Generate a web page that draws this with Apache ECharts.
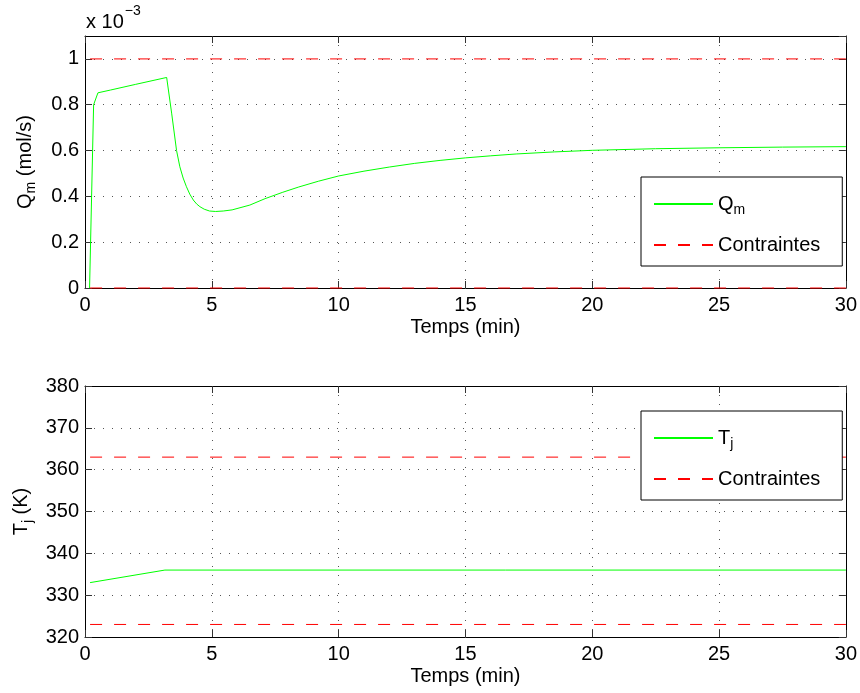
<!DOCTYPE html>
<html>
<head>
<meta charset="utf-8">
<script src="https://cdn.jsdelivr.net/npm/echarts@6/dist/echarts.min.js"></script>
<style>
html,body{margin:0;padding:0;background:#fff;}
#chart{width:860px;height:693px;}
</style>
</head>
<body>
<div id="chart"></div>
<script>
// ---- data ----
var timeQ = [0.18, 0.34, 0.51, 1.0, 2.0, 3.22, 3.42, 3.61, 3.74, 3.87, 4.0, 4.13, 4.27, 4.4, 4.53, 4.7, 4.91, 5.15, 5.45, 5.8, 6.5, 7.1, 7.8, 8.43, 9.2, 10, 11, 12, 13, 14, 15, 16, 17, 18.5, 20, 22.5, 25, 27.5, 30];
var qm    = [0, 0.80, 0.852, 0.864, 0.889, 0.919, 0.76, 0.60, 0.529, 0.48, 0.442, 0.41, 0.384, 0.367, 0.355, 0.344, 0.336, 0.334, 0.336, 0.341, 0.362, 0.39, 0.418, 0.441, 0.466, 0.489, 0.51, 0.528, 0.544, 0.557, 0.568, 0.577, 0.585, 0.594, 0.601, 0.608, 0.612, 0.615, 0.617];
var timeT = [0.2, 3.15, 30];
var tj    = [333, 336, 336];
var consTime = [0.2, 30];
var qmUpper = [1, 1];
var qmLower = [0, 0];
var tjUpper = [363, 363];
var tjLower = [323, 323];

function zip(xs, ys){ return xs.map(function(x,i){ return [x, ys[i]]; }); }

var FONT = 'Liberation Sans, Arial, Helvetica, sans-serif';
var FS = 20;
var richStyles = {
  b: {fontSize: FS, fontFamily: FONT, color: '#000', lineHeight: 24},
  s: {fontSize: 14, fontFamily: FONT, color: '#000', padding: [12, 0, 0, 0], lineHeight: 14}
};

function baseX(gridIndex, isTop){
  return {
    type: 'value', gridIndex: gridIndex, min: 0, max: 30, interval: 5,
    position: isTop ? 'top' : 'bottom',
    axisLine: {show: true, onZero: false, lineStyle: {color: '#000', width: 1}},
    axisTick: {show: true, inside: true, length: 7, lineStyle: {color: '#333', width: 1}},
    axisLabel: {show: !isTop, color: '#000', fontSize: FS, fontFamily: FONT, margin: 7},
    splitLine: {show: !isTop, lineStyle: {color: '#555', width: 1, type: [1, 8]}},
    name: isTop ? '' : 'Temps (min)',
    nameLocation: 'middle', nameGap: 29,
    nameTextStyle: {color: '#000', fontSize: FS, fontFamily: FONT}
  };
}
function baseY(gridIndex, isRight, min, max, interval, name){
  return {
    type: 'value', gridIndex: gridIndex, min: min, max: max, interval: interval,
    position: isRight ? 'right' : 'left',
    axisLine: {show: true, onZero: false, lineStyle: {color: '#000', width: 1}},
    axisTick: {show: true, inside: true, length: 7, lineStyle: {color: '#333', width: 1}},
    axisLabel: {show: !isRight, color: '#000', fontSize: FS, fontFamily: FONT, margin: 6, showMaxLabel: (max - min) % interval === 0,
      formatter: function(v){ return String(Math.round(v * 1000) / 1000); }},
    splitLine: {show: !isRight, lineStyle: {color: '#555', width: 1, type: [1, 8]}},
    name: isRight ? '' : name,
    nameLocation: 'middle', nameGap: 48, nameRotate: 90,
    nameTextStyle: {color: '#000', fontSize: FS, fontFamily: FONT, rich: richStyles}
  };
}

var green = {color: '#00ff00', width: 1};
var redDash = {color: '#ff0000', width: 1, type: [12, 12]};

function lineSeries(name, xi, yi, data, style, clip){
  return {
    name: name, type: 'line', xAxisIndex: xi, yAxisIndex: yi,
    data: data, symbol: 'none', showSymbol: false, lineStyle: style,
    smooth: false,
    itemStyle: {color: style.color}, clip: clip, animation: false, z: 3
  };
}

function legendFmt(name){
  if (name === 'Q_m') return '{b|Q}{s|m}';
  if (name === 'T_j') return '{b|T}{s|j}';
  return '{b|' + name + '}';
}

function makeLegend(names, top){
  return {data: names, orient: 'vertical', left: 641, top: top,
    itemWidth: 59, itemHeight: 14, itemGap: 18, padding: [14, 22, 11, 12],
    borderColor: '#000', borderWidth: 1, backgroundColor: '#fff',
    itemStyle: {opacity: 0},
    formatter: legendFmt, textStyle: {rich: richStyles}, selectedMode: false};
}

var option = {
  animation: false,
  backgroundColor: '#fff',
  grid: [
    {left: 85, top: 36, width: 764, height: 252},
    {left: 85, top: 386, width: 764, height: 251}
  ],
  xAxis: [baseX(0, false), baseX(0, true), baseX(1, false), baseX(1, true)],
  yAxis: [
    baseY(0, false, 0, 1.1, 0.2, '{b|Q}{s|m}{b| (mol/s)}'),
    baseY(0, true, 0, 1.1, 0.2, ''),
    baseY(1, false, 320, 380, 10, '{b|T}{s|j}{b| (K)}'),
    baseY(1, true, 320, 380, 10, '')
  ],
  legend: [makeLegend(['Q_m', 'Contraintes'], 177), makeLegend(['T_j', 'Contraintes'], 411)],
  graphic: [
    {type: 'text', left: 86, top: 4, z: 10,
     style: {text: '{b|x 10}{u|\u22123}', rich: {
       b: {fontSize: FS, fontFamily: FONT, fill: '#000', color: '#000', padding: [12, 0, 0, 0]},
       u: {fontSize: 14, fontFamily: FONT, fill: '#000', color: '#000', padding: [0, 0, 10, 1]}
     }}}
  ],
  series: [
    lineSeries('Q_m', 0, 0, zip(timeQ, qm), green, true),
    lineSeries('Contraintes', 0, 0, zip(consTime, qmUpper), redDash, false),
    lineSeries('Contraintes', 0, 0, zip(consTime, qmLower), redDash, false),
    lineSeries('T_j', 2, 2, zip(timeT, tj), green, true),
    lineSeries('Contraintes', 2, 2, zip(consTime, tjUpper), redDash, false),
    lineSeries('Contraintes', 2, 2, zip(consTime, tjLower), redDash, false)
  ]
};

var chart = echarts.init(document.getElementById('chart'), null, {renderer: 'canvas'});
chart.setOption(option);
</script>
</body>
</html>
